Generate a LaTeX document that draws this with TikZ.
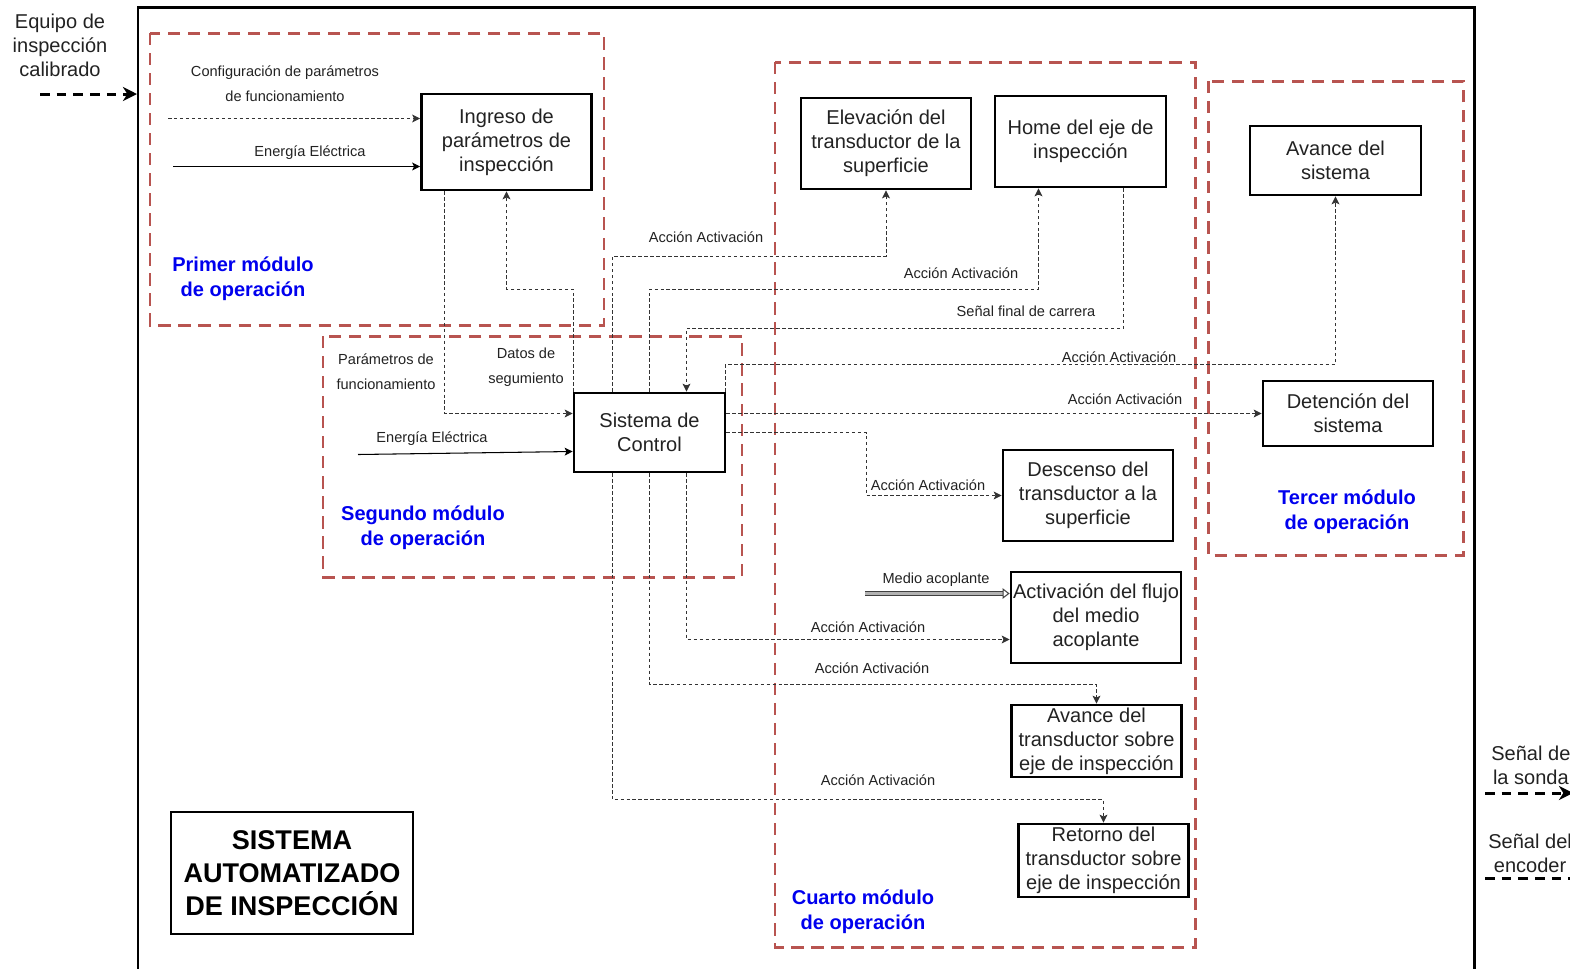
\documentclass[tikz,border=0pt]{standalone}
\usepackage{fontspec}
\setmainfont{Liberation Sans}
\usetikzlibrary{arrows.meta, positioning, calc}
\definecolor{modred}{HTML}{B85450}
\definecolor{modblue}{HTML}{0000EE}
\definecolor{txtgray}{HTML}{222222}
\definecolor{linegray}{HTML}{333333}

\begin{document}
\begin{tikzpicture}[x=0.02cm, y=-0.02cm,
    bloque/.style={draw=black, line width=1.6pt, align=center, inner sep=0pt, text=txtgray, font=\fontsize{11.4}{13.7}\selectfont},
    modulo/.style={draw=modred, line width=1.7pt, dash pattern=on 7pt off 4.4pt},
    titmod/.style={text=modblue, align=center, inner sep=0pt, font=\fontsize{11.4}{14.2}\selectfont\bfseries},
    etiq/.style={text=txtgray, align=center, inner sep=0pt, font=\fontsize{8.3}{14.2}\selectfont},
    senal/.style={draw=linegray, line width=0.5pt, dash pattern=on 2pt off 1.4pt, -{Stealth[length=4.5pt, width=4.5pt, inset=1pt]}},
    energia/.style={draw=black, line width=0.6pt, -{Stealth[length=4.5pt, width=4.5pt, inset=1pt]}},
    tubo/.style={draw=black!75, double=gray!60, double distance=1.6pt, line width=0.6pt, -{Triangle[open, length=4pt, width=6pt]}},
    entrada/.style={draw=black, line width=1.7pt, dash pattern=on 5.5pt off 4pt, -{Stealth[length=8pt, width=8pt, inset=2.5pt]}}
  ]
  \useasboundingbox (0,0) rectangle (1570,968);

  % Marco general
  \draw[line width=1.7pt, line join=miter] (138,980) -- (138,7) -- (1474,7) -- (1474,980);

  % Modulos de operacion
  \draw[modulo] (150,33) rectangle (604,325);
  \draw[modulo] (323,336) rectangle (742,577);
  \draw[modulo] (775,62) rectangle (1195,947);
  \draw[modulo] (1208,81) rectangle (1463,555);
  \node[titmod] (tprimer) at (243,278.5) {Primer módulo\\de operación};
  \node[titmod] (tsegundo) at (423,527.5) {Segundo módulo\\de operación};
  \node[titmod] (ttercer) at (1347,512) {Tercer módulo\\de operación};
  \node[titmod] (tcuarto) at (863,911.5) {Cuarto módulo\\de operación};

  % Bloques
  \node[bloque, minimum width=3.4cm, minimum height=1.92cm] (ingreso) at (506.5,142) {Ingreso de\\parámetros de\\inspección};
  \node[bloque, minimum width=3.4cm, minimum height=1.82cm] (elev) at (886,143.5) {Elevación del\\transductor de la\\superficie};
  \node[bloque, minimum width=3.42cm, minimum height=1.82cm] (home) at (1080.5,141.5) {Home del eje de\\inspección};
  \node[bloque, minimum width=3.42cm, minimum height=1.38cm] (avsis) at (1335.5,160.5) {Avance del\\sistema};
  \node[bloque, minimum width=3.4cm, minimum height=1.3cm] (deten) at (1348,413.5) {Detención del\\sistema};
  \node[bloque, minimum width=3.02cm, minimum height=1.58cm] (ctrl) at (649.5,432.5) {Sistema de\\Control};
  \node[bloque, minimum width=3.4cm, minimum height=1.82cm] (desc) at (1088,495.5) {Descenso del\\transductor a la\\superficie};
  \node[bloque, minimum width=3.4cm, minimum height=1.82cm] (flujo) at (1096,617.5) {Activación del flujo\\del medio\\acoplante};
  \node[bloque, minimum width=3.4cm, minimum height=1.44cm] (avtr) at (1096.5,741) {Avance del\\transductor sobre\\eje de inspección};
  \node[bloque, minimum width=3.4cm, minimum height=1.46cm] (ret) at (1103.5,860.5) {Retorno del\\transductor sobre\\eje de inspección};
  \node[draw=black, line width=1.2pt, align=center, inner sep=0pt, minimum width=4.84cm, minimum height=2.44cm, font=\fontsize{15.4}{18.8}\selectfont\bfseries] (titulo) at (292,873) {SISTEMA\\AUTOMATIZADO\\DE INSPECCIÓN};

  % Entradas y salidas externas
  \node[text=txtgray, align=center, inner sep=0pt, font=\fontsize{11.4}{13.7}\selectfont] (lequipo) at (60,45) {Equipo de\\inspección\\calibrado};
  \coordinate (equipo) at (40,94);
  \coordinate (marcoin) at (137,94);
  \draw[entrada] (equipo) -- (marcoin);
  \node[text=txtgray, align=center, inner sep=0pt, anchor=west, font=\fontsize{11.4}{13.7}\selectfont] (lsonda) at (1491,765) {Señal de\\la sonda};
  \coordinate (sonda) at (1485,793);
  \coordinate (sondafin) at (1573,793);
  \draw[entrada] (sonda) -- (sondafin);
  \node[text=txtgray, align=center, inner sep=0pt, anchor=west, font=\fontsize{11.4}{13.7}\selectfont] (lencoder) at (1488,853.5) {Señal del\\encoder};
  \coordinate (encoder) at (1485,878);
  \coordinate (encoderfin) at (1600,878);
  \draw[entrada] (encoder) -- (encoderfin);

  % Primer modulo
  \coordinate (cfg) at (168,118.5);
  \draw[senal] (cfg) -- (cfg -| ingreso.west);
  \node[etiq] (lcfg) at (285,84) {Configuración de parámetros\\de funcionamiento};
  \coordinate (ener1) at (173,166.5);
  \draw[energia] (ener1) -- (ener1 -| ingreso.west);
  \node[etiq] (lener1) at (310,153) {Energía Eléctrica};

  % Segundo modulo
  \draw[senal] ($(ingreso.south)+(-62,0)$) |- ($(ctrl.west)+(0,-19)$);
  \node[etiq] (lparam) at (386,372) {Parámetros de\\funcionamiento};
  \draw[senal] ($(ctrl.north west)+(0.5,0)$) -- ++(0,-102.5) -| (ingreso.south);
  \node[etiq] (ldatos) at (526,367) {Datos de\\segumiento};
  \coordinate (ener2) at (358,454.5);
  \draw[energia] (ener2) -- ($(ctrl.west)+(0,19)$);
  \node[etiq] (lener2) at (432,439) {Energía Eléctrica};

  % Salidas del sistema de control
  \draw[senal] ($(ctrl.north)+(-37,0)$) -- ++(0,-135.5) -| (elev.south);
  \node[etiq] (la1) at (706,237) {Acción Activación};
  \draw[senal] (ctrl.north) -- ++(0,-102.5) -| ($(home.south)+(-42,0)$);
  \node[etiq] (la2) at (961,273) {Acción Activación};
  \draw[senal] ($(home.south)+(43,0)$) -- ++(0,140) -| ($(ctrl.north)+(37,0)$);
  \node[etiq] (lfin) at (1026,311) {Señal final de carrera};
  \draw[senal] ($(ctrl.north east)+(-0.5,0)$) -- ++(0,-27.5) -| (avsis.south);
  \node[etiq] (la3) at (1119,357) {Acción Activación};
  \draw[senal] (ctrl.east |- deten.west) -- (deten.west);
  \node[etiq] (la4) at (1125,399) {Acción Activación};
  \draw[senal] (ctrl.east) -- ++(140,0) |- (desc.west);
  \node[etiq] (la5) at (928,485) {Acción Activación};

  % Cuarto modulo
  \coordinate (medio) at (865,593.5);
  \draw[tubo] (medio) -- (medio -| flujo.west);
  \node[etiq] (lmedio) at (936,580) {Medio acoplante};
  \draw[senal] ($(ctrl.south)+(37,0)$) |- ($(flujo.west)+(0,22)$);
  \node[etiq] (la6) at (868,627) {Acción Activación};
  \draw[senal] (ctrl.south) -- ++(0,211.5) -| (avtr.north);
  \node[etiq] (la7) at (872,668) {Acción Activación};
  \draw[senal] ($(ctrl.south)+(-37,0)$) -- ++(0,326.5) -| (ret.north);
  \node[etiq] (la8) at (878,780) {Acción Activación};
\end{tikzpicture}
\end{document}
